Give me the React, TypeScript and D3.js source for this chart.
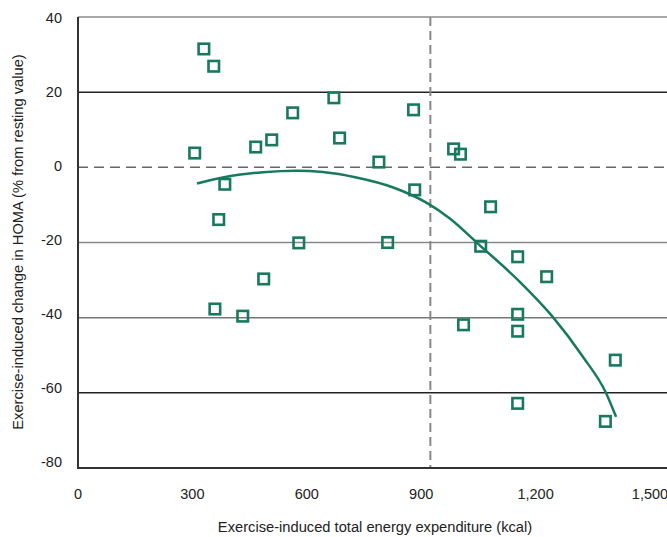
import { useRef, useEffect } from 'react'
import * as d3 from 'd3'

// energy expenditure (kcal) and change in HOMA (%) for each subject
const kcal = [306, 330, 356, 385, 369, 359, 432, 487, 466, 508, 563, 579, 671, 686, 789, 812, 880, 883, 985, 1003, 1082, 1056, 1153, 1229, 1011, 1153, 1153, 1409, 1153, 1383]
const homa = [3.8, 31.5, 26.9, -4.5, -13.9, -37.7, -39.6, -29.7, 5.4, 7.3, 14.5, -20.1, 18.5, 7.8, 1.4, -20, 15.3, -6, 4.9, 3.5, -10.5, -21, -23.8, -29.1, -41.9, -39.1, -43.6, -51.3, -62.8, -67.6]

// fitted trend curve
const trendX = [312, 380, 485, 573, 642, 730, 825, 917, 975, 1053, 1158, 1245, 1324, 1385, 1411]
const trendY = [-4.3, -2.7, -1.3, -0.9, -1.25, -2.7, -5.3, -9.6, -13.6, -20.7, -30.4, -39.8, -50.4, -60.1, -66.4]

const xTicks = [0, 300, 600, 900, 1200, 1500]
const yTicks = [40, 20, 0, -20, -40, -60, -80]
const refKcal = 924

const green = '#17795d'
const font = 'Liberation Sans, Arial, sans-serif'

const ScatterChart = () => {
    const svgRef = useRef<SVGSVGElement>(null)

    useEffect(() => {
        const w = 667
        const h = 537
        const svg = d3.select(svgRef.current)
        svg.selectAll('*').remove()

        // scales
        const x = d3.scaleLinear().domain([0, 1500]).range([78, 650])
        const y = d3.scaleLinear().domain([-80, 40]).range([468, 17])
        // the tick labels in the original sit on a slightly tighter scale
        const yLab = d3.scaleLinear().domain([-80, 40]).range([462, 18])

        // horizontal gridlines
        const gridColor: Record<number, string> = { 40: '#8a8a8a', 20: '#222', '-20': '#888', '-40': '#777', '-60': '#222' }
        svg.selectAll('.grid')
            .data(yTicks.filter(t => t !== 0 && t !== -80))
            .join('line')
                .attr('x1', 78).attr('x2', w)
                .attr('y1', d => y(d)).attr('y2', d => y(d))
                .attr('stroke', d => gridColor[d])
                .attr('stroke-width', 1.5)

        // zero line (dashed)
        svg.append('line')
            .attr('x1', 78).attr('x2', w)
            .attr('y1', y(0)).attr('y2', y(0))
            .attr('stroke', '#666')
            .attr('stroke-width', 1.5)
            .attr('stroke-dasharray', '10,6')

        // reference vertical dashed line
        svg.append('line')
            .attr('x1', x(refKcal)).attr('x2', x(refKcal))
            .attr('y1', y(40)).attr('y2', y(-80))
            .attr('stroke', '#888')
            .attr('stroke-width', 2)
            .attr('stroke-dasharray', '9,5')

        // axes lines
        svg.append('line')
            .attr('x1', 78).attr('x2', 78)
            .attr('y1', y(40)).attr('y2', y(-80) + 1)
            .attr('stroke', '#333').attr('stroke-width', 2)
        svg.append('line')
            .attr('x1', 77).attr('x2', w)
            .attr('y1', y(-80)).attr('y2', y(-80))
            .attr('stroke', '#333').attr('stroke-width', 2)

        // tick labels
        svg.selectAll('.ylab')
            .data(yTicks)
            .join('text')
                .attr('x', 62)
                .attr('y', d => yLab(d) + 5)
                .attr('text-anchor', 'end')
                .attr('font-family', font)
                .attr('font-size', 14.5)
                .attr('fill', '#222')
                .text(d => d)
        svg.selectAll('.xlab')
            .data(xTicks)
            .join('text')
                .attr('x', d => x(d))
                .attr('y', 499)
                .attr('text-anchor', 'middle')
                .attr('font-family', font)
                .attr('font-size', 14.5)
                .attr('fill', '#222')
                .text(d => d3.format(',')(d))

        // axis titles
        svg.append('text')
            .attr('x', 375)
            .attr('y', 532)
            .attr('text-anchor', 'middle')
            .attr('font-family', font)
            .attr('font-size', 14.7)
            .attr('fill', '#222')
            .text('Exercise-induced total energy expenditure (kcal)')
        svg.append('text')
            .attr('transform', 'translate(23, 242) rotate(-90)')
            .attr('text-anchor', 'middle')
            .attr('font-family', font)
            .attr('font-size', 14.7)
            .attr('fill', '#222')
            .text('Exercise-induced change in HOMA (% from resting value)')

        // trend curve
        const line = d3.line<number>()
            .x((d, i) => x(trendX[i]))
            .y(d => y(d))
            .curve(d3.curveMonotoneX)
        svg.append('path')
            .attr('d', line(trendY))
            .attr('fill', 'none')
            .attr('stroke', green)
            .attr('stroke-width', 2.5)

        // points
        const s = 10.5
        svg.selectAll('.pt')
            .data(kcal)
            .join('rect')
                .attr('x', (d) => x(d) - s / 2)
                .attr('y', (d, i) => y(homa[i]) - s / 2)
                .attr('width', s).attr('height', s)
                .attr('fill', 'none')
                .attr('stroke', green)
                .attr('stroke-width', 2.6)

        svg.attr('width', w).attr('height', h)
    }, [])

    return <svg ref={svgRef} style={{ position: 'absolute', left: 0, top: 0, background: '#fff' }}></svg>
}

export default function App() {
    return <ScatterChart />
}
